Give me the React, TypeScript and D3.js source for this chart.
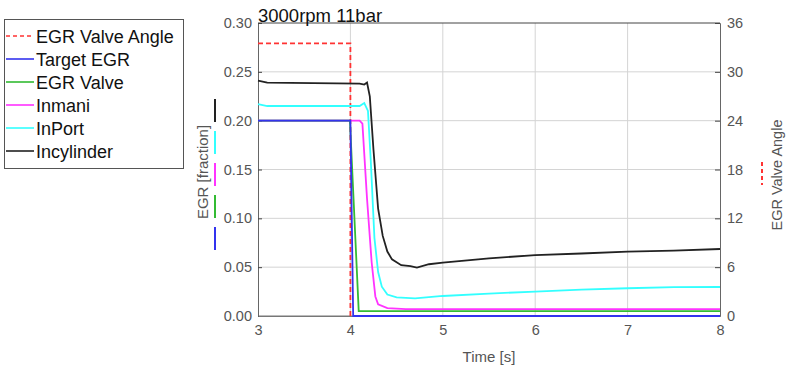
import React, { useEffect, useRef } from "react";
import * as d3 from "d3";

// time [s] and EGR fraction
const targetT = [3, 4.0, 4.03, 8];
const targetV = [0.2, 0.2, 0, 0];

const valveT = [3, 3.995, 4.09, 8];
const valveV = [0.2, 0.2, 0.005, 0.005];

const inmaniT = [3, 4.1, 4.13, 4.18, 4.23, 4.27, 4.3, 4.4, 4.6, 8];
const inmaniV = [0.2, 0.2, 0.197, 0.12, 0.055, 0.02, 0.012, 0.008, 0.007, 0.007];

const inportT = [3, 3.1, 4.1, 4.15, 4.19, 4.22, 4.26, 4.3, 4.34, 4.4, 4.5, 4.7, 5, 5.5, 6, 6.5, 7, 7.5, 8];
const inportV = [0.217, 0.215, 0.215, 0.218, 0.21, 0.16, 0.08, 0.045, 0.03, 0.022, 0.019, 0.018, 0.0205, 0.023, 0.025, 0.027, 0.0284, 0.0295, 0.0297];

const cylT = [3, 3.1, 4.1, 4.15, 4.18, 4.21, 4.25, 4.3, 4.35, 4.4, 4.45, 4.55, 4.65, 4.72, 4.85, 5, 5.5, 6, 6.5, 7, 7.5, 8];
const cylV = [0.241, 0.239, 0.238, 0.237, 0.239, 0.225, 0.17, 0.11, 0.082, 0.066, 0.058, 0.052, 0.051, 0.0495, 0.053, 0.0546, 0.059, 0.0624, 0.064, 0.0659, 0.067, 0.0686];

// EGR valve angle [deg], right axis
const angleT = [3, 4.0, 4.0, 8];
const angleV = [33.5, 33.5, 0, 0];

const leftTicks = [0, 0.05, 0.1, 0.15, 0.2, 0.25, 0.3];
const rightTicks = [0, 6, 12, 18, 24, 30, 36];
const xTicks = [3, 4, 5, 6, 7, 8];

const legendItems = [
  { name: "EGR Valve Angle", color: "#ff3333", dash: "4,3" },
  { name: "Target EGR", color: "#3333ee", dash: "" },
  { name: "EGR Valve", color: "#33bb33", dash: "" },
  { name: "Inmani", color: "#ff33ff", dash: "" },
  { name: "InPort", color: "#33ffff", dash: "" },
  { name: "Incylinder", color: "#222222", dash: "" },
];

const FONT = "Liberation Sans, Arial, sans-serif";

export default function App() {
  const svgRef = useRef<SVGSVGElement>(null);

  useEffect(() => {
    document.body.style.margin = "0";
    const width = 790;
    const height = 375;
    const left = 258;
    const right = 720;
    const top = 23;
    const bottom = 316;

    const svg = d3.select(svgRef.current);
    svg.selectAll("*").remove();
    svg.attr("width", width).attr("height", height).style("font-family", FONT);

    const x = d3.scaleLinear().domain([3, 8]).range([left, right]);
    const y = d3.scaleLinear().domain([0, 0.3]).range([bottom, top]);
    const y2 = d3.scaleLinear().domain([0, 36]).range([bottom, top]);

    // grid
    const grid = svg.append("g");
    grid.selectAll(".gx")
      .data(xTicks.slice(1, -1))
      .join("line")
      .attr("x1", (d) => x(d)).attr("x2", (d) => x(d))
      .attr("y1", top).attr("y2", bottom)
      .attr("stroke", "#d4d4d4").attr("stroke-width", 1);
    grid.selectAll(".gy")
      .data(leftTicks.slice(1, -1))
      .join("line")
      .attr("x1", left).attr("x2", right)
      .attr("y1", (d) => y(d)).attr("y2", (d) => y(d))
      .attr("stroke", "#d4d4d4").attr("stroke-width", 1);

    // frame
    svg.append("line").attr("x1", left).attr("x2", right).attr("y1", top).attr("y2", top).attr("stroke", "#444");
    svg.append("line").attr("x1", left).attr("x2", right).attr("y1", bottom).attr("y2", bottom).attr("stroke", "#777");

    // axes
    const axL = svg.append("g").attr("transform", `translate(${left},0)`)
      .call(d3.axisLeft(y).tickValues(leftTicks).tickFormat(d3.format(".2f")).tickSize(-4).tickPadding(6));
    const axR = svg.append("g").attr("transform", `translate(${right},0)`)
      .call(d3.axisRight(y2).tickValues(rightTicks).tickSize(-5).tickPadding(7));
    const axB = svg.append("g").attr("transform", `translate(0,${bottom})`)
      .call(d3.axisBottom(x).tickValues(xTicks).tickFormat(d3.format("d")).tickSize(0).tickPadding(9));
    [axL, axR, axB].forEach((g) => {
      g.selectAll("text").attr("fill", "#555").style("font-size", "14.5px").style("font-family", FONT);
      g.select(".domain").attr("stroke", "#777");
      g.selectAll(".tick line").attr("stroke", "#444");
    });
    axL.select(".domain").attr("stroke", "#666");
    axR.select(".domain").attr("stroke", "#666");

    // series
    const line = (ts: number[], vs: number[], sy: d3.ScaleLinear<number, number>) =>
      d3.line<number>().x((_, i) => x(ts[i])).y((v) => sy(v))(vs);

    const series = [
      { t: angleT, v: angleV, s: y2, c: legendItems[0].color, dash: "5,3", w: 1.8 },
      { t: cylT, v: cylV, s: y, c: legendItems[5].color, dash: "", w: 1.8 },
      { t: inportT, v: inportV, s: y, c: legendItems[4].color, dash: "", w: 1.8 },
      { t: inmaniT, v: inmaniV, s: y, c: legendItems[3].color, dash: "", w: 1.8 },
      { t: valveT, v: valveV, s: y, c: legendItems[2].color, dash: "", w: 1.8 },
      { t: targetT, v: targetV, s: y, c: legendItems[1].color, dash: "", w: 1.8 },
    ];
    svg.append("g").selectAll("path")
      .data(series)
      .join("path")
      .attr("d", (d) => line(d.t, d.v, d.s))
      .attr("fill", "none")
      .attr("stroke", (d) => d.c)
      .attr("stroke-width", (d) => d.w)
      .attr("stroke-dasharray", (d) => d.dash);

    // title
    svg.append("text").attr("x", left).attr("y", 22).attr("font-size", 18.5).attr("fill", "#111").text("3000rpm 11bar");

    // axis titles
    svg.append("text").attr("x", x(5.5)).attr("y", 362).attr("text-anchor", "middle")
      .attr("font-size", 15).attr("fill", "#555").text("Time [s]");
    svg.append("text").attr("transform", "translate(208,172) rotate(-90)").attr("text-anchor", "middle")
      .attr("font-size", 15).attr("fill", "#555").text("EGR [fraction]");
    svg.append("text").attr("transform", "translate(782,175) rotate(-90)").attr("text-anchor", "middle")
      .attr("font-size", 14.5).attr("fill", "#555").text("EGR Valve Angle");

    // colored markers next to the left label
    const markers = legendItems.slice(1).reverse();
    svg.append("g").selectAll("line")
      .data(markers)
      .join("line")
      .attr("x1", 215).attr("x2", 215)
      .attr("y1", (_, i) => 99 + i * 32).attr("y2", (_, i) => 122 + i * 32)
      .attr("stroke", (d) => d.color).attr("stroke-width", 2);
    svg.append("line").attr("x1", 762).attr("x2", 762).attr("y1", 162).attr("y2", 185)
      .attr("stroke", legendItems[0].color).attr("stroke-width", 2).attr("stroke-dasharray", "4,3");

    // legend
    const lg = svg.append("g");
    lg.append("rect").attr("x", 4.5).attr("y", 19.5).attr("width", 179).attr("height", 149)
      .attr("fill", "#fff").attr("stroke", "#555");
    const items = lg.selectAll("g.item").data(legendItems).join("g")
      .attr("transform", (_, i) => `translate(0,${36 + i * 23})`);
    items.append("line").attr("x1", 6).attr("x2", 34).attr("y1", 0).attr("y2", 0)
      .attr("stroke", (d) => d.color).attr("stroke-width", 1.6).attr("stroke-dasharray", (d) => d.dash);
    items.append("text").attr("x", 36).attr("y", 6.5).attr("font-size", 18).attr("fill", "#111").text((d) => d.name);
  }, []);

  return <svg ref={svgRef} style={{ display: "block" }} />;
}
